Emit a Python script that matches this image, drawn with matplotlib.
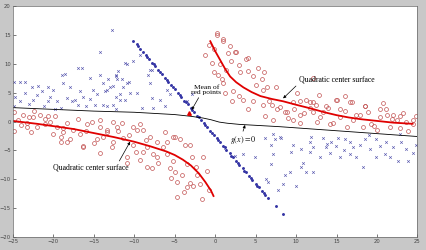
import numpy as np
import matplotlib
matplotlib.use("Agg")
import matplotlib.pyplot as plt

# quadratic center surfaces (red curves)
curve_r_x = [-0.6, 0, 0.6, 1.2, 1.85, 2.6, 3.5, 4.5, 5.6, 7, 8.4, 10, 11.7, 13.5, 15, 16.5, 18, 20, 22, 24.4]
curve_r_y = [13.9, 12.2, 10.7, 9.2, 7.8, 6.8, 5.9, 5.1, 4.4, 3.9, 3.5, 2.9, 2.3, 1.6, 1.1, 0.7, 0.4, 0.1, -0.2, -0.4]
curve_l_x = [-25, -22, -20, -17.5, -15, -12.5, -10, -8, -6, -5, -4, -3, -2, -1.2, -0.5, -0.2]
curve_l_y = [0.1, -0.4, -0.8, -1.3, -2.0, -2.7, -3.5, -4.3, -5.2, -5.8, -6.6, -7.6, -9.0, -10.5, -12.0, -12.9]

# decision boundary g(x)=0
gx_x = [-25, -15, -10, -5, -3, -1.5, -0.5, 0.5, 1.5, 3, 8, 10, 15, 20, 25]
gx_y = [2.4, 1.8, 1.6, 1.2, 0.9, 0.6, 0.3, -0.1, -0.3, -0.5, -0.9, -1.1, -1.6, -2.1, -2.6]

# red class points
red_x = [0.2, -1.2, 1.0, -0.2, 1.6, 2.5, -0.4, 0.6, 1.4, -0.2, 0.8, 1.0, 1.2, 2.1, 2.2, 3.1, 4.1, 4.7,
         5.8, 6.4, 3.5, 4.7, 5.9, 4.1, 7.0, 7.6, 8.9, 9.6, 10.5, 7.2, 10.1, 11.7, 12.1,
         12.1, 14.9, 16.7, 18.5, 21.1, 22.0, 23.6, 24.4, 20.4, 17.4, 15.4, 13.7, 12.5, 11.2, 10.5,
         7.5, 5.9, 5.3, 3.8, 2.6, 1.0, 0.2,
         8.6, 10.5, 12.6, 14.2, 16.3, 18.3, 20.0, 21.6, 23.8, 24.4, 15.0, 16.9, 18.5, 20.4, 21.2,
         22.5, 17.9, 15.4, 13.3, 11.7, 9.6, 12.1, 19.3, 22.8, 14.6, 9.0, 6.2, 2.9, 0.3,
         13.0, 14.0, 16.0, 17.0, 18.9, 19.6, 21.8, 22.9, 23.2, 24.8, 11.0, 9.8, 8.0, 6.6, 5.0,
         3.0, 2.0, 1.8, -0.8, 4.0, 6.0, 12.8, 16.0, 20.8,
         -24.9, -23.7, -24.3, -24.9, -23.2, -22.5, -21.6, -20.7, -20.4, -22.0, -22.8, -19.5, -18.3,
         -17.5, -19.1, -17.9, -16.7, -15.8, -15.2, -16.3, -14.6, -14.2, -13.3, -12.6, -12.0, -11.4,
         -14.2, -10.1, -9.6, -10.9, -14.2,
         -23.2, -19.1, -18.3, -16.3, -10.9, -9.3, -8.4, -7.8, -8.9, -7.2, -6.4, -5.9, -5.2, -4.9,
         -4.7, -4.7, -4.1, -3.5, -3.1, -2.7, -2.2, -1.9, -1.6, -3.7, -2.8, -1.5, -5.2, -4.3, -7.2,
         -5.6, -3.5, -8.4, -7.7,
         -13.3, -12.1, -10.1, -8.9, -8.0, -6.2, -4.9, -3.1, -12.6, -9.3, -21.0, -18.8, -0.8,
         -24.0, -23.0, -21.0, -19.8, -18.8, -17.0, -16.0, -15.0, -13.8, -12.8, -11.5, -10.6,
         -9.8, -8.6, -7.0, -6.0, -5.4, -3.8, -2.4, -1.0, -20.0, -22.4]
red_y = [15.0, 11.6, 13.9, 12.5, 11.9, 12.1, 10.2, 9.9, 9.0, 8.5, 7.3, 6.7, 5.0, 3.5, 5.2, 8.5, 8.7, 7.8,
         7.3, 5.9, 3.8, 3.5, 2.9, 2.1, 2.9, 2.1, 1.6, 0.3, 1.2, 0.3, 5.0, 3.3, 1.6,
         7.6, 3.8, 3.3, 2.6, 2.1, 1.2, 0.0, 0.3, 0.7, 1.2, 2.1, 2.6, 2.9, 3.8, 3.5,
         5.9, 5.5, 9.3, 10.9, 12.1, 14.2, 15.4,
         1.7, -0.2, 0.0, -0.5, -0.9, -1.0, -1.4, -0.9, -1.7, -0.5, 3.8, 3.3, 2.6, 2.1, 1.2,
         0.3, 1.2, 0.7, 1.6, 2.4, 3.3, 3.3, -0.4, 0.9, -0.2, 0.6, 1.0, 9.8, 8.0,
         0.8, 2.4, 1.9, 0.2, 1.6, -0.8, 0.5, -1.1, 1.5, 0.9, 1.5, 2.2, 2.5, 3.6, 6.4,
         4.5, 10.5, 13.0, 13.2, 11.0, 8.5, 4.6, 4.4, 3.2,
         1.6, 1.2, 0.3, -1.7, -0.2, 0.7, 1.2, 0.9, 0.0, -1.0, -1.9, -0.9, -0.2,
         -1.4, -2.6, -3.1, -2.2, -0.5, 0.0, -4.3, -3.1, -0.9, -1.9, -3.6, -1.7, -2.8,
         -5.4, -4.0, -1.4, -6.2, 0.3,
         -1.0, -3.6, -3.6, -4.5, -7.1, -6.6, -7.8, -8.0, -5.2, -3.5, -4.5, -5.7, -6.9, -8.7,
         -10.4, -13.0, -9.2, -7.4, -10.6, -11.2, -9.2, -10.9, -13.5, -4.0, -6.2, -6.1, -2.6, -3.1, -6.1,
         -8.0, -11.4, -4.5, -5.7,
         -1.4, -1.0, -0.9, -1.4, -2.6, -1.9, -2.6, -4.0, 0.0, -0.5, 0.4, -1.8, -11.8,
         -0.6, 0.8, -0.4, 1.0, -1.2, 0.4, -1.6, -3.8, -2.6, -4.4, -0.2, -2.4,
         -5.2, -3.2, -7.2, -3.6, -9.8, -12.2, -7.8, -8.6, -2.2, 1.8]

# blue class points along the projected direction
line_x = [-10.1, -9.7, -9.3, -8.9, -8.6, -8.2, -7.8, -7.4, -7.0, -6.6, -6.2, -5.8, -5.4, -5.0,
          -4.6, -4.2, -3.8, -3.4, -3.0, -2.6, -2.2, -1.8, -1.4, -1.0, -0.6, -0.2, 0.2, 0.6, 1.0,
          1.4, 1.8, 2.2, 2.6, 3.0, 3.4, 3.8, 4.2, 4.6, 5.0, 5.4, 5.8, 6.2, 6.5, 7.5, 8.4,
          -9.5, -8.4, -7.6, -6.8, -6.0, -5.2, -4.4, -3.6, -2.8, -2.0, -1.2, -0.4, 0.4, 1.2,
          2.0, 2.8, 3.6, 4.4, 5.2, 6.0]
line_y = [14.0, 13.4, 12.6, 12.0, 11.5, 10.8, 10.2, 9.6, 8.9, 8.2, 7.6, 6.9, 6.3, 5.6,
          5.0, 4.3, 3.6, 3.0, 2.3, 1.7, 1.0, 0.3, -0.3, -1.0, -1.6, -2.3, -2.9, -3.5, -4.2,
          -4.9, -5.5, -6.2, -6.8, -7.5, -8.1, -8.8, -9.4, -10.1, -10.8, -11.4, -12.1, -12.7, -13.2, -14.6, -16.1,
          13.0, 11.2, 9.9, 8.6, 7.2, 5.9, 4.6, 3.3, 2.0, 0.7, -0.6, -2.0, -3.2, -4.5,
          -5.9, -7.2, -8.5, -9.8, -11.1, -12.4]

# blue class scattered points
blue_x = [-24.9, -24.1, -23.5, -24.7, -24.9, -24.1, -23.5, -22.6, -22.5, -21.9, -21.4, -20.7, -20.4,
          -20.6, -20.0, -21.2, -19.5, -18.9, -18.5, -18.8, -17.9, -18.3, -17.7, -17.3, -19.1, -16.9,
          -16.4, -16.7, -16.3, -16.9, -15.4, -16.0, -15.1, -14.6, -14.8, -14.2, -14.2, -12.8, -13.8,
          -13.3, -13.0, -12.6, -13.2, -12.3, -12.0, -12.1, -11.5, -10.9, -12.3, -11.7, -11.1, -10.7,
          -10.5, -11.4, -13.8, -12.6, -9.0, -8.0, -7.8, -8.3, -5.9, -5.6, -6.8, -7.8, -7.7,
          -11.1, -10.1, -9.3, -8.0, -6.2, -13.6, -12.3, -10.9, -9.6, -11.7, -13.3, -12.3, -22.0, -23.0,
          -2.8, -3.5, -19.8, -15.5,
          6.2, 7.4, 8.0, 8.1, 9.6, 9.4, 10.6, 11.9, 11.7, 10.9, 10.6, 12.1, 11.2, 7.2, 6.9, 8.6, 9.3,
          10.0, 6.3, 6.5, 7.8, 8.4, 4.9, 3.5, 6.9, 13.3, 14.3, 13.7, 15.2, 14.9, 16.0, 16.7, 17.0,
          15.4, 17.9, 18.5, 19.1, 18.3, 19.9, 20.4, 19.9, 21.1, 22.0, 22.6, 23.0, 23.6, 23.8, 24.4,
          24.8, 12.1, 13.0, 16.7, 17.4, 21.0, 21.6, 14.2, 7.2, 11.7, 1.2, 2.5, 19.0, 22.9, 15.9, 13.8]
blue_y = [6.9, 6.9, 6.9, 4.3, 2.6, 3.5, 5.0, 5.9, 3.8, 6.1, 5.2, 5.9, 4.3,
          3.5, 5.5, 2.6, 3.5, 8.1, 8.3, 6.7, 5.9, 4.1, 3.5, 3.8, 2.4, 9.3,
          9.3, 5.2, 4.3, 2.9, 7.6, 2.6, 5.5, 4.7, 2.9, 8.1, 12.1, 15.9, 6.7,
          5.5, 5.9, 6.1, 7.3, 7.8, 8.7, 7.3, 7.3, 9.9, 4.3, 4.7, 3.8, 6.9,
          5.0, 5.9, 2.9, 2.9, 2.4, 6.7, 9.0, 8.1, 5.5, 4.7, 3.8, 4.1, 2.4,
          10.2, 10.4, 11.6, 9.0, 2.6, 5.2, 8.1, 6.7, 5.0, 3.8, 2.6, 2.1, 4.6, 3.1,
          4.8, 3.6, 2.2, 3.9,
          -2.8, -3.1, -2.6, -2.8, -4.0, -5.2, -4.8, -2.6, -3.6, -7.1, -7.8, -8.7, -8.7, -5.7, -7.4, -9.2, -8.8,
          -11.2, -10.0, -10.4, -11.8, -10.9, -6.1, -5.7, -4.0, -2.8, -3.6, -4.5, -2.8, -4.3, -3.1, -3.5, -4.5,
          -6.1, -4.0, -3.1, -4.8, -7.8, -3.1, -4.3, -6.2, -3.6, -4.5, -6.9, -3.5, -4.8, -6.9, -5.4,
          -4.0, -4.5, -6.2, -5.7, -6.1, -5.7, -6.2, -5.4, -2.2, -5.2, -4.6, -5.9, -2.4, -2.2, -5.0, -3.9]

mean_red = (-3.2, 1.4)

fig = plt.figure(figsize=(4.26, 2.5), dpi=100, facecolor="#c8c8c8")
ax = fig.add_axes([0.030, 0.052, 0.950, 0.924])
ax.set_facecolor("white")

ax.plot(blue_x, blue_y, "x", color="#5a5ab0", markersize=1.9, markeredgewidth=0.45)
ax.plot(line_x, line_y, ".", color="#3535a5", markersize=2.2)
ax.plot(red_x, red_y, "o", markerfacecolor="none", markeredgecolor="#c25252",
        markersize=2.8, markeredgewidth=0.5)
ax.plot(curve_r_x, curve_r_y, "-", color="#e00000", linewidth=1.3)
ax.plot(curve_l_x, curve_l_y, "-", color="#e00000", linewidth=1.3)
ax.plot(gx_x, gx_y, "-", color="black", linewidth=0.6)
ax.plot(*mean_red, "^", color="#e00000", markersize=2.6)

serif = "Liberation Serif"
arrow = dict(arrowstyle="-|>", color="black", lw=0.5, mutation_scale=4, shrinkA=0, shrinkB=0)
ax.annotate("Mean of\nred points", xy=(-2.9, 2.0), xytext=(-1.1, 5.5), fontsize=5.4,
            family=serif, ha="center", va="center", linespacing=1.1,
            arrowprops=dict(arrow, relpos=(0.3, 0.0)))
ax.annotate("Quadratic center surface", xy=(8.4, 4.0), xytext=(15.0, 7.3), fontsize=5.6,
            family=serif, ha="center", va="center",
            arrowprops=dict(arrow, relpos=(0.0, 0.0)))
ax.annotate("Quadratic center surface", xy=(-10.5, -3.5), xytext=(-15.3, -8.0), fontsize=5.6,
            family=serif, ha="center", va="center",
            arrowprops=dict(arrow, relpos=(0.85, 1.0)))
ax.annotate("$g(x)=0$", xy=(3.7, -0.6), xytext=(3.5, -3.2), fontsize=5.8,
            ha="center", va="center", math_fontfamily="stix",
            arrowprops=dict(arrow, relpos=(0.45, 1.0)))

ax.set_xlim(-25, 25)
ax.set_ylim(-20, 20)
ax.set_xticks(np.arange(-25, 26, 5))
ax.set_yticks(np.arange(-20, 21, 5))
ax.tick_params(direction="in", length=2, width=0.5, labelsize=3.8, colors="#444444", pad=1.5)
for s in ax.spines.values():
    s.set_linewidth(0.5)
    s.set_color("#666666")

fig.savefig("out.png", dpi=100, facecolor=fig.get_facecolor())
